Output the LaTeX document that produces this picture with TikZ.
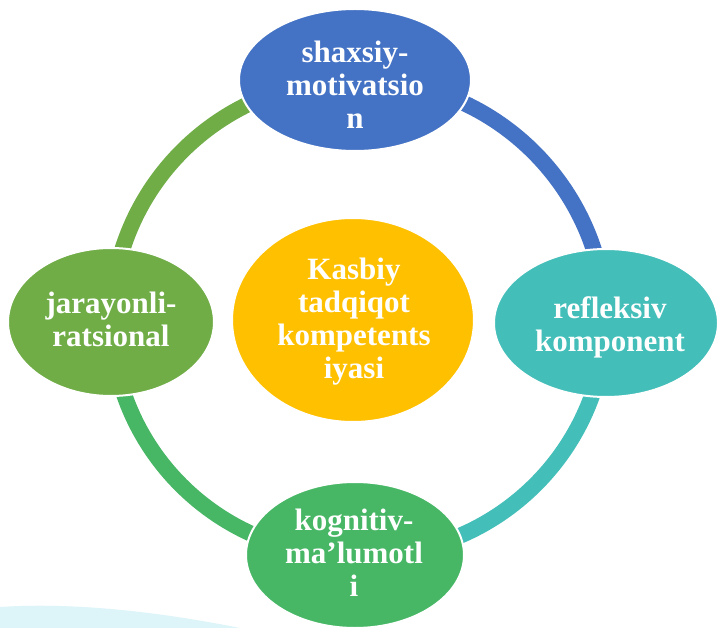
\documentclass[tikz,border=0pt]{standalone}
\usepackage{fontspec}
\setmainfont{Liberation Serif}
\usetikzlibrary{shapes.geometric}
\definecolor{cblue}{HTML}{4472C4}
\definecolor{colive}{HTML}{70AD47}
\definecolor{cteal}{HTML}{43BEB9}
\definecolor{cgreen}{HTML}{47B766}
\definecolor{cyellow}{HTML}{FFC000}
\definecolor{cpale}{HTML}{DDF5F8}
\begin{document}
\begin{tikzpicture}[x=1pt,y=-1pt,
  blob/.style={ellipse, draw=white, line width=2pt, inner sep=0pt},
  lbl/.style={text=white, font=\fontsize{31}{33}\selectfont\bfseries, align=center, inner sep=0pt},
  ring/.style={line width=16pt}]
\fill[white] (0,0) rectangle (717,628);
\useasboundingbox (0,0) rectangle (717,628);
\fill[cpale] (0,607) .. controls (60,603) and (140,608) .. (240,628) -- (0,628) -- cycle;
% ring centres
\coordinate (ct) at (356,80);
\coordinate (cr) at (606,323);
\coordinate (cb) at (356,555);
\coordinate (cl) at (111,322);
% ring segments
\draw[ring, cblue]  (ct) to[bend left=45] (cr);
\draw[ring, cteal]  (cr) to[bend left=45] (cb);
\draw[ring, cgreen] (cb) to[bend left=45] (cl);
\draw[ring, colive] (cl) to[bend left=45] (ct);
% ellipses
\node[blob, fill=cblue,  minimum width=232, minimum height=142] (top) at (355,80) {};
\node[blob, fill=cteal,  minimum width=224, minimum height=148] (right) at (cr) {};
\node[blob, fill=cgreen, minimum width=218, minimum height=146] (bottom) at (355,555) {};
\node[blob, fill=colive, minimum width=206, minimum height=148] (left) at (cl) {};
\node[blob, fill=cyellow, minimum width=242, minimum height=204] (centre) at (353,320) {};
% labels
\node[lbl] (ttop) at (355,85) {shaxsiy-\\motivatsio\\n};
\node[lbl] (tright) at (610,327) {refleksiv\\komponent};
\node[lbl] (tbottom) at (354,553) {kognitiv-\\ma’lumotl\\i};
\node[lbl] (tleft) at (111,319) {jarayonli-\\ratsional};
\node[lbl] (tcentre) at (354,322) {Kasbiy\\tadqiqot\\kompetents\\iyasi};
\end{tikzpicture}
\end{document}
